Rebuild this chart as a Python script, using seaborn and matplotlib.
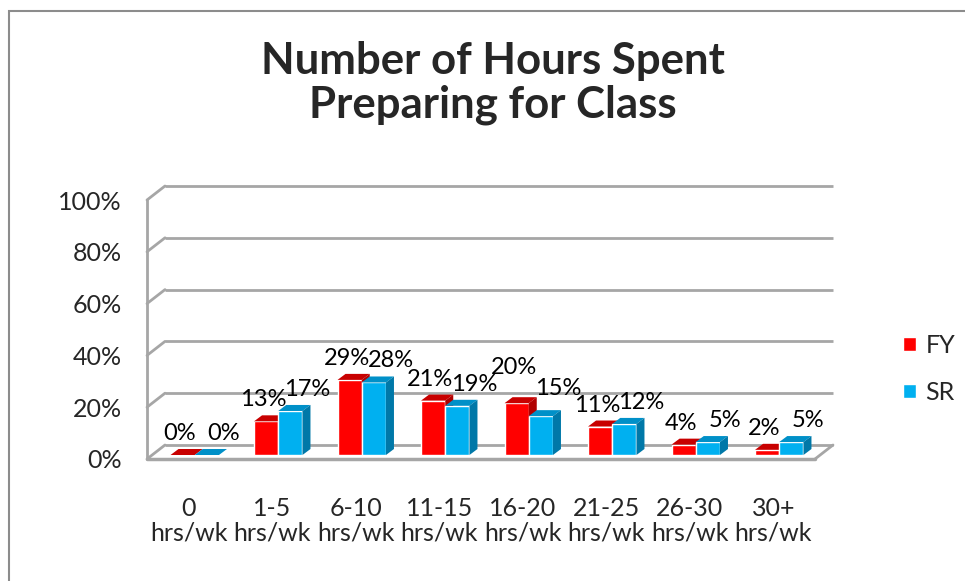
import numpy as np
import pandas as pd
import matplotlib
matplotlib.use('Agg')
import matplotlib.pyplot as plt
import seaborn as sns
from matplotlib.transforms import ScaledTranslation, IdentityTransform
from matplotlib.patches import Polygon, Rectangle
from matplotlib.lines import Line2D

# data
hours = ['0', '1-5', '6-10', '11-15', '16-20', '21-25', '26-30', '30+']
fy = [0, 13, 29, 21, 20, 11, 4, 2]
sr = [0, 17, 28, 19, 15, 12, 5, 5]
groups = ['FY', 'SR']
y_ticks = [0, 20, 40, 60, 80, 100]

df = pd.DataFrame({
    'Hours': hours * 2,
    'Pct': fy + sr,
    'Group': ['FY'] * len(hours) + ['SR'] * len(hours),
})

sns.set_style('white')
plt.rcParams['font.family'] = ['Lato', 'DejaVu Sans']

front_c = {'FY': '#FF0000', 'SR': '#00B0F0'}
top_c = {'FY': '#C80000', 'SR': '#0090C8'}
side_c = {'FY': '#B00000', 'SR': '#0078A8'}
grid_c = '#A6A6A6'
fs = 18

fig = plt.figure(figsize=(9.65, 5.81), dpi=100)
W, H = 965, 581
ax = fig.add_axes([147 / W, (H - 459) / H, (815 - 147) / W, (459 - 200) / H])

sns.barplot(data=df, x='Hours', y='Pct', hue='Group', palette=front_c,
            width=0.58, saturation=1, ax=ax, zorder=2)
ax.set_xlim(-0.5, len(hours) - 0.5)
ax.set_ylim(0, 100)
for s in ax.spines.values():
    s.set_visible(False)

# depth offsets in pixels
wall_dx, wall_dy = 18, 14
recess_dx, recess_dy = 6, 4
bar_dx, bar_dy = 8, 6
px = fig.dpi_scale_trans
back = ax.transData + ScaledTranslation(wall_dx / 100, wall_dy / 100, px)
recess = ax.transData + ScaledTranslation(recess_dx / 100, recess_dy / 100, px)

x0, x1 = ax.get_xlim()
# back wall gridlines + left wall diagonals
for t in y_ticks:
    ax.plot([x0, x1], [t, t], color=grid_c, lw=2, transform=back,
            clip_on=False, zorder=1, solid_capstyle='butt')
    p = ax.transData.transform((x0, t))
    ax.add_line(Line2D([p[0], p[0] + wall_dx], [p[1], p[1] + wall_dy],
                       color=grid_c, lw=2, transform=IdentityTransform(),
                       clip_on=False, zorder=1))
# left front edge, floor front edge, floor right edge
ax.plot([x0, x0], [0, 100], color=grid_c, lw=2, clip_on=False, zorder=1)
ax.plot([x0, x1], [0, 0], color=grid_c, lw=2.5, clip_on=False, zorder=1)
p = ax.transData.transform((x1, 0))
ax.add_line(Line2D([p[0], p[0] + wall_dx], [p[1], p[1] + wall_dy],
                   color=grid_c, lw=2, transform=IdentityTransform(),
                   clip_on=False, zorder=1))

# fake 3D bars, labels nudged apart like the original
label_shift = {'FY': -3, 'SR': 17}
labels = []
for gi, (g, cont) in enumerate(zip(groups, ax.containers)):
    z = 2 + gi
    for bar in cont:
        bar.set_transform(recess)
        bar.set_zorder(z)
        bx, bw, bh = bar.get_x(), bar.get_width(), bar.get_height()
        a = recess.transform((bx, 0))
        b = recess.transform((bx + bw, bh))
        top = [(a[0], b[1]), (b[0], b[1]), (b[0] + bar_dx, b[1] + bar_dy),
               (a[0] + bar_dx, b[1] + bar_dy)]
        side = [(b[0], a[1]), (b[0], b[1]), (b[0] + bar_dx, b[1] + bar_dy),
                (b[0] + bar_dx, a[1] + bar_dy)]
        ax.add_patch(Polygon(top, closed=True, facecolor=top_c[g], edgecolor='none',
                             transform=IdentityTransform(), clip_on=False, zorder=z + 0.2))
        ax.add_patch(Polygon(side, closed=True, facecolor=side_c[g], edgecolor='none',
                             transform=IdentityTransform(), clip_on=False, zorder=z + 0.2))
        ann = ax.annotate(f'{bh:.0f}%', xy=(bx + bw / 2, bh), xycoords=recess,
                          xytext=(label_shift[g], 11), textcoords='offset pixels',
                          ha='center', va='bottom', fontsize=17, color='black', zorder=5)
        labels.append((bx, bh, ann))

ax.set_yticks(y_ticks)
ax.set_yticklabels([f'{t}%' for t in y_ticks], fontsize=fs)
ax.set_xticks(range(len(hours)))
ax.set_xticklabels([f'{h}\nhrs/wk' for h in hours], fontsize=fs, linespacing=1.12)
ax.tick_params(axis='y', length=0, pad=18)
ax.tick_params(axis='x', length=0, pad=27)
ax.set_xlabel('')
ax.set_ylabel('')

# lift the taller neighbour's label when two labels really collide
# (text boxes carry a few px of side bearing, hence the tolerance)
fig.canvas.draw()
rend = fig.canvas.get_renderer()
labels.sort(key=lambda t: t[0])
for (_, h_prev, a_prev), (_, h_cur, a_cur) in zip(labels[:-1], labels[1:]):
    bb1 = a_prev.get_window_extent(rend)
    bb2 = a_cur.get_window_extent(rend)
    if bb1.x1 - bb2.x0 > 4 and bb1.y1 - 4 > bb2.y0 and bb2.y1 - 4 > bb1.y0:
        mover, other = (a_prev, bb2) if h_prev > h_cur else (a_cur, bb1)
        mb = mover.get_window_extent(rend)
        lift = other.y1 - mb.y0 - 4
        dx, dy = mover.xyann
        mover.xyann = (dx, dy + lift)

sns.move_legend(ax, 'center left', bbox_to_anchor=(903 / W, (H - 369) / H),
                bbox_transform=fig.transFigure, frameon=False, title=None,
                fontsize=fs, handlelength=0.5, handleheight=0.5,
                handletextpad=0.4, labelspacing=0.95, borderpad=0, borderaxespad=0)

fig.text(493 / W, (H - 83) / H, 'Number of Hours Spent\nPreparing for Class',
         ha='center', va='center', fontsize=31.5, fontweight='bold', linespacing=1.1)

fig.add_artist(Rectangle((9 / W, -0.1), 1.2, (H - 11) / H + 0.1, transform=fig.transFigure,
                         fill=False, edgecolor='#8C8C8C', lw=1.5))

fig.savefig('out.png', dpi=100)
